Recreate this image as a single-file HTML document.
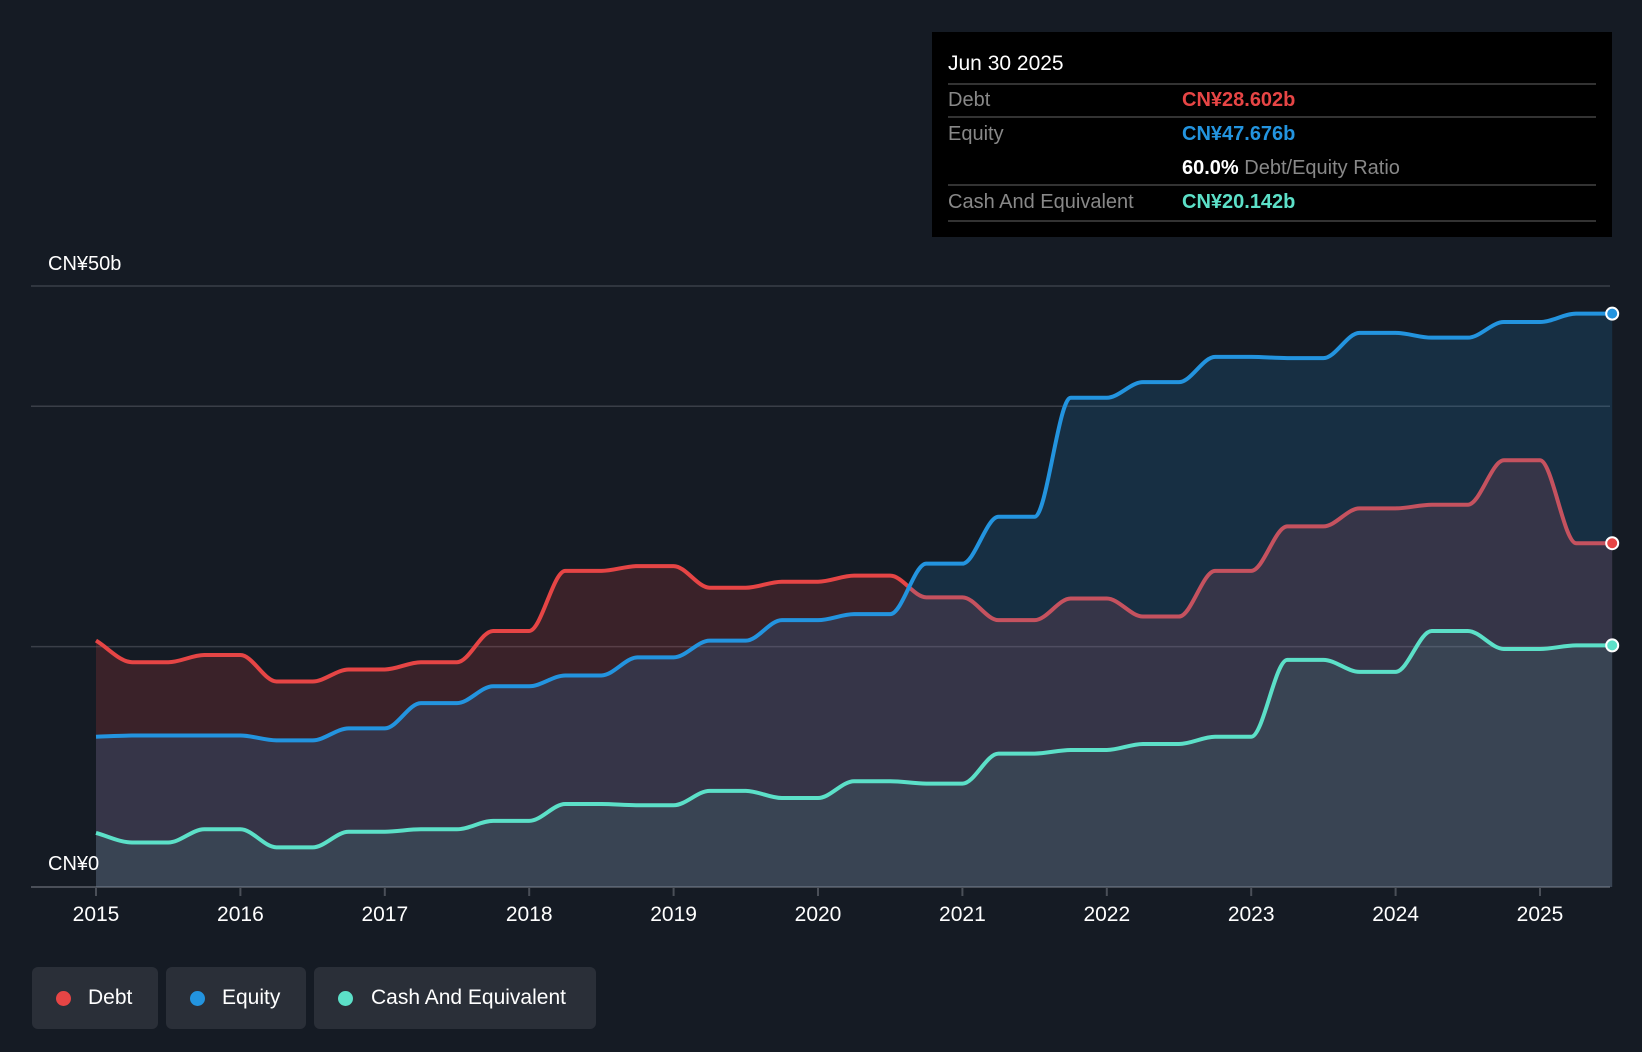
<!DOCTYPE html>
<html><head><meta charset="utf-8"><style>
html,body{margin:0;padding:0;background:#151b24;}
body{width:1642px;height:1052px;overflow:hidden;position:relative;font-family:"Liberation Sans",sans-serif;}
.tt{position:absolute;left:932px;top:32px;width:680px;height:205px;background:#000;}
.t{position:absolute;font-size:20px;white-space:nowrap;}
.sep{position:absolute;left:16px;width:648px;height:2px;background:#333;}
.leg{position:absolute;top:967px;height:62px;background:#2a2f38;border-radius:6px;}
.leg .d{position:absolute;left:24px;top:24px;width:15px;height:15px;border-radius:50%;}
.leg .l{position:absolute;top:19px;font-size:21px;color:#fff;}
</style></head><body>
<svg id="chart" width="1642" height="1052" style="position:absolute;left:0;top:0"></svg>
<div class="tt">
 <div class="t" style="left:16px;top:20px;color:#fff;font-size:21px">Jun 30 2025</div>
 <div class="sep" style="top:51px"></div>
 <div class="t" style="left:16px;top:57px;color:#888">Debt</div>
 <div class="t" style="left:250px;top:57px;color:#e64545;font-weight:bold">CN¥28.602b</div>
 <div class="sep" style="top:84px"></div>
 <div class="t" style="left:16px;top:91px;color:#888">Equity</div>
 <div class="t" style="left:250px;top:91px;color:#2394df;font-weight:bold">CN¥47.676b</div>
 <div class="t" style="left:250px;top:125px;color:#888"><b style="color:#fff">60.0%</b> Debt/Equity Ratio</div>
 <div class="sep" style="top:152px"></div>
 <div class="t" style="left:16px;top:159px;color:#888">Cash And Equivalent</div>
 <div class="t" style="left:250px;top:159px;color:#5ce0c8;font-weight:bold">CN¥20.142b</div>
 <div class="sep" style="top:188px"></div>
</div>
<div class="leg" style="left:32px;width:126px"><div class="d" style="background:#e64545"></div><div class="l" style="left:56px">Debt</div></div>
<div class="leg" style="left:166px;width:140px"><div class="d" style="background:#2394df"></div><div class="l" style="left:56px">Equity</div></div>
<div class="leg" style="left:314px;width:282px"><div class="d" style="background:#5ce0c8"></div><div class="l" style="left:57px">Cash And Equivalent</div></div>
<script>
const years=[2015,2016,2017,2018,2019,2020,2021,2022,2023,2024,2025];
const yTicks=[0,20,40,50];
const debt=[20.5,18.7,18.7,19.3,19.3,17.1,17.1,18.1,18.1,18.7,18.7,21.3,21.3,26.3,26.3,26.7,26.7,24.9,24.9,25.4,25.4,25.9,25.9,24.1,24.1,22.2,22.2,24.0,24.0,22.5,22.5,26.3,26.3,30.0,30.0,31.5,31.5,31.8,31.8,35.5,35.5,28.6,28.6];
const equity=[12.5,12.6,12.6,12.6,12.6,12.2,12.2,13.2,13.2,15.3,15.3,16.7,16.7,17.6,17.6,19.1,19.1,20.5,20.5,22.2,22.2,22.7,22.7,26.9,26.9,30.8,30.8,40.7,40.7,42.0,42.0,44.1,44.1,44.0,44.0,46.1,46.1,45.7,45.7,47.0,47.0,47.7,47.7];
const cash=[4.5,3.7,3.7,4.8,4.8,3.3,3.3,4.6,4.6,4.8,4.8,5.5,5.5,6.9,6.9,6.8,6.8,8.0,8.0,7.4,7.4,8.8,8.8,8.6,8.6,11.1,11.1,11.4,11.4,11.9,11.9,12.5,12.5,18.9,18.9,17.9,17.9,21.3,21.3,19.8,19.8,20.1,20.1];
const svg=document.getElementById('chart');const NS='http://www.w3.org/2000/svg';
const X=t=>96+(t-2015)*144.4, Y=v=>887-v*601/50;
function mk(tag,a){const e=document.createElementNS(NS,tag);for(const k in a)e.setAttribute(k,a[k]);svg.appendChild(e);return e;}
function pathD(vals){const n=vals.length,xs=vals.map((v,i)=>X(2015+i*0.25)),ys=vals.map(Y);
 const d=[],m=[];for(let i=0;i<n-1;i++)d.push((ys[i+1]-ys[i])/(xs[i+1]-xs[i]));
 for(let i=0;i<n;i++){if(i==0)m.push(d[0]);else if(i==n-1)m.push(d[n-2]);else m.push(d[i-1]*d[i]<=0?0:(d[i-1]+d[i])/2);}
 for(let i=0;i<n-1;i++){if(d[i]==0){m[i]=0;m[i+1]=0;}}
 let s='M'+xs[0]+','+ys[0];
 for(let i=0;i<n-1;i++){const h=(xs[i+1]-xs[i])/3;s+=' C'+(xs[i]+h)+','+(ys[i]+m[i]*h)+' '+(xs[i+1]-h)+','+(ys[i+1]-m[i+1]*h)+' '+xs[i+1]+','+ys[i+1];}
 return {s,x0:xs[0],x1:xs[n-1]};}
yTicks.forEach(v=>{const g=mk('line',{x1:31,x2:1610,y1:Y(v),y2:Y(v),stroke:v==0?'#4a4f58':'#3a3f48','stroke-width':v==0?2:1.5});

});
function series(vals,color,alpha,name){const p=pathD(vals);
 const a=mk('path',{d:p.s+' L'+p.x1+','+Y(0)+' L'+p.x0+','+Y(0)+' Z',fill:color,'fill-opacity':alpha});
 
 
 const l=mk('path',{d:p.s,fill:'none',stroke:color,'stroke-width':4});
 
 
 return vals;}
series(debt,'#e64545',0.18,'debt');
series(equity,'#2394df',0.17,'equity');
series(cash,'#5ce0c8',0.09,'cash');
[[debt,'#e64545','debt'],[equity,'#2394df','equity'],[cash,'#5ce0c8','cash']].forEach(([v,c,n])=>{
 const e=mk('circle',{cx:X(2015+(v.length-1)*0.25),cy:Y(v[v.length-1]),r:6,fill:c,stroke:'#fff','stroke-width':2});
 
 });
years.forEach(yr=>{const t=mk('line',{x1:X(yr),x2:X(yr),y1:888,y2:896,stroke:'#4a4f58','stroke-width':2});
 
 
 const tx=mk('text',{x:X(yr),y:921,fill:'#fff','font-size':21,'text-anchor':'middle','font-family':'Liberation Sans, sans-serif'});
 tx.textContent=yr;
 
 });
const l1=mk('text',{x:48,y:270,fill:'#fff','font-size':20,'font-family':'Liberation Sans, sans-serif'});l1.textContent='CN¥50b';


const l0=mk('text',{x:48,y:870,fill:'#fff','font-size':20,'font-family':'Liberation Sans, sans-serif'});l0.textContent='CN¥0';


</script>
</body></html>
